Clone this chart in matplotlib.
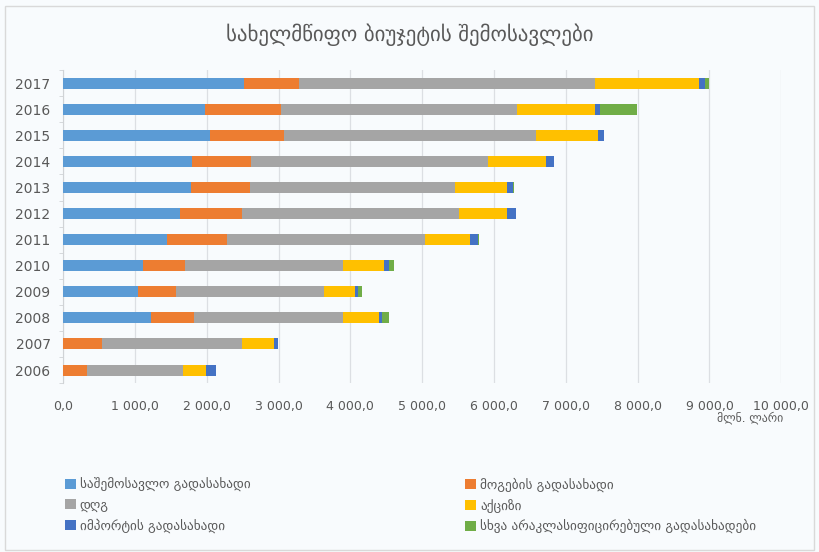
import numpy as np
import matplotlib.pyplot as plt
from matplotlib.ticker import FuncFormatter, FixedLocator

years = ["2006", "2007", "2008", "2009", "2010", "2011",
         "2012", "2013", "2014", "2015", "2016", "2017"]

income_tax = [0, 0, 1222, 1049, 1119, 1446, 1632, 1786, 1796, 2052, 1972, 2517]
profit_tax = [336, 537, 596, 523, 583, 830, 863, 815, 825, 1025, 1059, 770]
vat = [1328, 1958, 2076, 2056, 2192, 2759, 3021, 2854, 3301, 3506, 3286, 4112]
excise = [328, 442, 503, 442, 568, 629, 671, 723, 805, 867, 1082, 1459]
import_tax = [144, 56, 46, 33, 69, 118, 116, 84, 112, 88, 70, 79]
other_tax = [0, 0, 94, 61, 70, 15, 0, 18, 0, 0, 527, 61]

series = [
    ("საშემოსავლო გადასახადი", income_tax, "#5B9BD5"),
    ("მოგების გადასახადი", profit_tax, "#ED7D31"),
    ("დღგ", vat, "#A5A5A5"),
    ("აქციზი", excise, "#FFC000"),
    ("იმპორტის გადასახადი", import_tax, "#4472C4"),
    ("სხვა არაკლასიფიცირებული გადასახადები", other_tax, "#70AD47"),
]

plt.rcParams["font.family"] = ["DejaVu Sans"]
text_color = "#595959"
bg = "#f8fbfd"

fig = plt.figure(figsize=(8.19, 5.52), dpi=100, facecolor=bg)
ax = fig.add_axes([0.077, 0.306, 0.877, 0.567], facecolor=bg)

y = np.arange(len(years))
left = np.zeros(len(years))
handles = []
for name, vals, color in series:
    vals = np.array(vals, dtype=float)
    handles.append(ax.barh(y, vals, left=left, height=0.42, color=color, label=name, zorder=3))
    left += vals

ax.set_xlim(0, 10000)
ax.set_ylim(-0.5, len(years) - 0.5)
ax.set_xticks(np.arange(0, 10001, 1000))
ax.xaxis.set_major_formatter(FuncFormatter(
    lambda v, p: "{:,.1f}".format(v).replace(",", " ").replace(".", ",")))
ax.set_yticks(y)
ax.set_yticklabels(years)
ax.yaxis.set_minor_locator(FixedLocator(np.arange(-0.5, len(years), 1.0)))

ax.grid(axis="x", color="#dcdfe3", linewidth=0.9, zorder=0)
for s in ["top", "right", "bottom"]:
    ax.spines[s].set_visible(False)
ax.spines["left"].set_color("#d0d3d6")
ax.tick_params(axis="x", length=0, labelsize=9, colors=text_color, pad=12)
ax.tick_params(axis="y", which="major", length=0, labelsize=10, colors=text_color, pad=9)
ax.tick_params(axis="y", which="minor", length=3, color="#d0d3d6")

fig.text(0.5, 0.937, "სახელმწიფო ბიუჯეტის შემოსავლები", ha="center", va="center",
         fontsize=15, color=text_color)
fig.text(0.956, 0.243, "მლნ. ლარი", ha="right", va="center", fontsize=8.5, color=text_color)

# legend fills column-wise, so reorder to get the row layout of the original
order = [0, 2, 4, 1, 3, 5]
leg = fig.legend([handles[i] for i in order], [series[i][0] for i in order],
                 ncol=2, loc="upper left", bbox_to_anchor=(0.065, 0.156),
                 frameon=False, fontsize=9.5, handlelength=0.8, handleheight=0.8,
                 handletextpad=0.3, columnspacing=16.3, labelspacing=0.5)
for t in leg.get_texts():
    t.set_color(text_color)

fig.patches.append(plt.Rectangle((0.006, 0.004), 0.988, 0.985, transform=fig.transFigure,
                                 fill=False, edgecolor="#d9d9d9", linewidth=1))

fig.savefig("out.png", dpi=100, facecolor=bg)
